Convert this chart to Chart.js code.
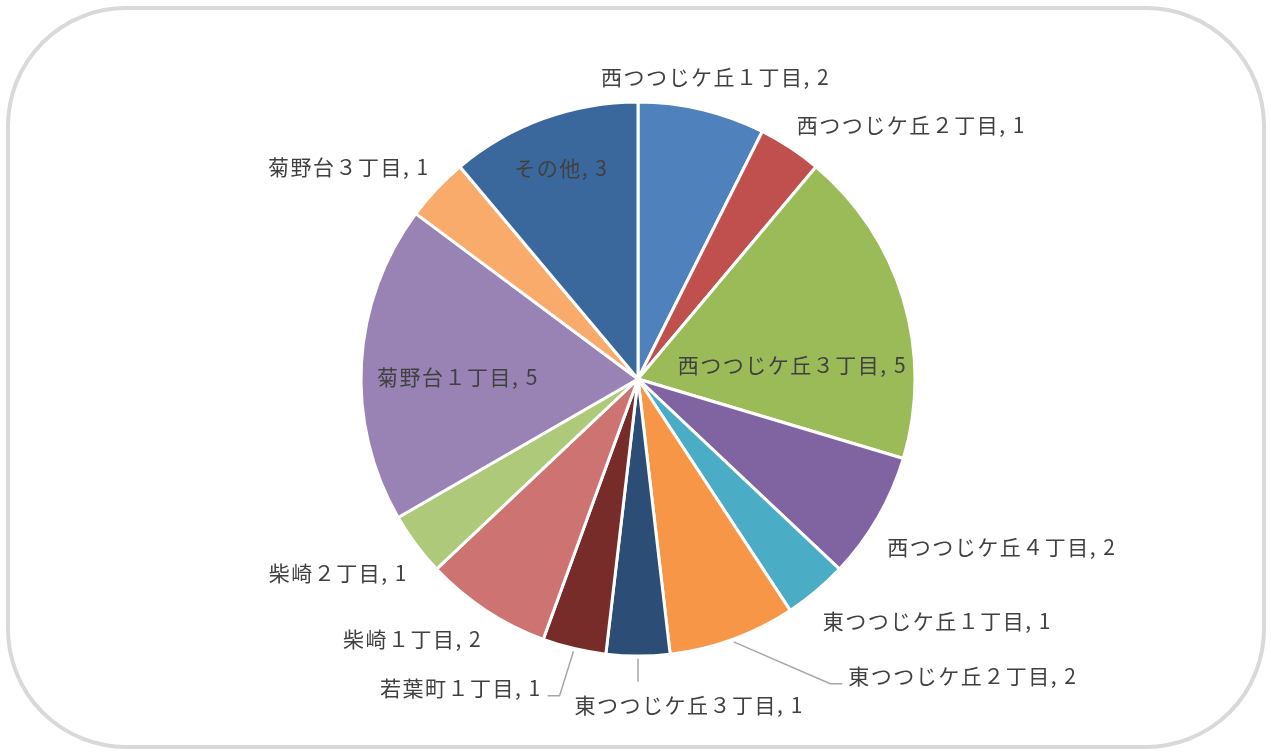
<!DOCTYPE html>
<html lang="ja">
<head>
    <meta charset="UTF-8">
    <title>地区別件数</title>
    <script src="https://cdn.jsdelivr.net/npm/chart.js"></script>
    <style>
        html, body {
            margin: 0;
            padding: 0;
            background: #fff;
        }
        .frame {
            position: absolute;
            left: 6px;
            top: 6px;
            width: 1252px;
            height: 735px;
            border: 4px solid #D9D9D9;
            border-radius: 120px;
            background: #fff;
        }
        #pieChart {
            position: absolute;
            left: 0;
            top: 0;
        }
    </style>
</head>
<body>
    <div class="frame"></div>
    <canvas id="pieChart" width="1271" height="753"></canvas>

    <script>
        // 地区名と件数
        const categories = [
            '西つつじケ丘１丁目', '西つつじケ丘２丁目', '西つつじケ丘３丁目', '西つつじケ丘４丁目',
            '東つつじケ丘１丁目', '東つつじケ丘２丁目', '東つつじケ丘３丁目', '若葉町１丁目',
            '柴崎１丁目', '柴崎２丁目', '菊野台１丁目', '菊野台３丁目', 'その他'
        ];
        const counts = [2, 1, 5, 2, 1, 2, 1, 1, 2, 1, 5, 1, 3];

        const sliceColors = [
            '#4F81BD', '#C0504D', '#9BBB59', '#8064A2', '#4BACC6', '#F79646', '#2C4D75',
            '#772C2A', '#CD7371', '#AFC97A', '#9983B5', '#F9AB6B', '#3A689C'
        ];

        // ラベル位置: t = 扇形内の角度の割合, k = 半径に対する距離
        const labelLayout = [
            { t: 0.54, k: 1.126, align: 'center' },
            { t: 0.40, k: 1.082, align: 'left' },
            { t: 0.67, k: 0.56, align: 'center' },
            { t: 0.65, k: 1.085, align: 'left' },
            { t: 0.70, k: 1.10, align: 'left' },
            { t: -0.074, k: 1.313, align: 'left', leader: 'elbow' },
            { t: -0.17, k: 1.19, align: 'center', leader: 'vertical' },
            { t: 0.80, k: 1.168, align: 'right', leader: 'elbow' },
            { t: 0.41, k: 1.095, align: 'right' },
            { t: 0.24, k: 1.086, align: 'right' },
            { t: 0.46, k: 0.65, align: 'center' },
            { t: 0.66, k: 1.072, align: 'right' },
            { t: 0.50, k: 0.81, align: 'center' }
        ];

        const sliceLabels = {
            id: 'sliceLabels',
            afterDatasetsDraw(chart) {
                const ctx = chart.ctx;
                const meta = chart.getDatasetMeta(0);
                ctx.save();
                ctx.font = '21px "Noto Sans CJK JP"';
                ctx.letterSpacing = '1.5px';
                ctx.textBaseline = 'middle';
                meta.data.forEach((arc, i) => {
                    const p = arc.getProps(['x', 'y', 'startAngle', 'endAngle', 'outerRadius'], true);
                    const L = labelLayout[i];
                    const a = p.startAngle + L.t * (p.endAngle - p.startAngle);
                    const ax = p.x + Math.cos(a) * p.outerRadius * L.k;
                    const ay = p.y + Math.sin(a) * p.outerRadius * L.k;

                    if (L.leader) {
                        const mid = (p.startAngle + p.endAngle) / 2;
                        const sx = p.x + Math.cos(mid) * p.outerRadius * 1.01;
                        const sy = p.y + Math.sin(mid) * p.outerRadius * 1.01;
                        ctx.strokeStyle = '#A6A6A6';
                        ctx.lineWidth = 1.5;
                        ctx.beginPath();
                        ctx.moveTo(sx, sy);
                        if (L.leader === 'elbow') {
                            const side = L.align === 'left' ? -1 : 1;
                            ctx.lineTo(ax + side * 18, ay + 8);
                            ctx.lineTo(ax + side * 6, ay + 8);
                        } else {
                            ctx.lineTo(sx, ay - 23);
                        }
                        ctx.stroke();
                    }

                    ctx.fillStyle = '#404040';
                    ctx.textAlign = L.align;
                    ctx.fillText(categories[i] + ', ' + counts[i], ax, ay);
                });
                ctx.restore();
            }
        };

        const ctx = document.getElementById('pieChart').getContext('2d');
        new Chart(ctx, {
            type: 'pie',
            data: {
                labels: categories,
                datasets: [{
                    data: counts,
                    backgroundColor: sliceColors,
                    borderColor: '#FFFFFF',
                    borderWidth: 3
                }]
            },
            options: {
                responsive: false,
                animation: false,
                devicePixelRatio: 1,
                layout: {
                    padding: { left: 359.5, right: 354.5, top: 100.5, bottom: 95.5 }
                },
                plugins: {
                    legend: { display: false },
                    tooltip: { enabled: false }
                }
            },
            plugins: [sliceLabels]
        });
    </script>
</body>
</html>
